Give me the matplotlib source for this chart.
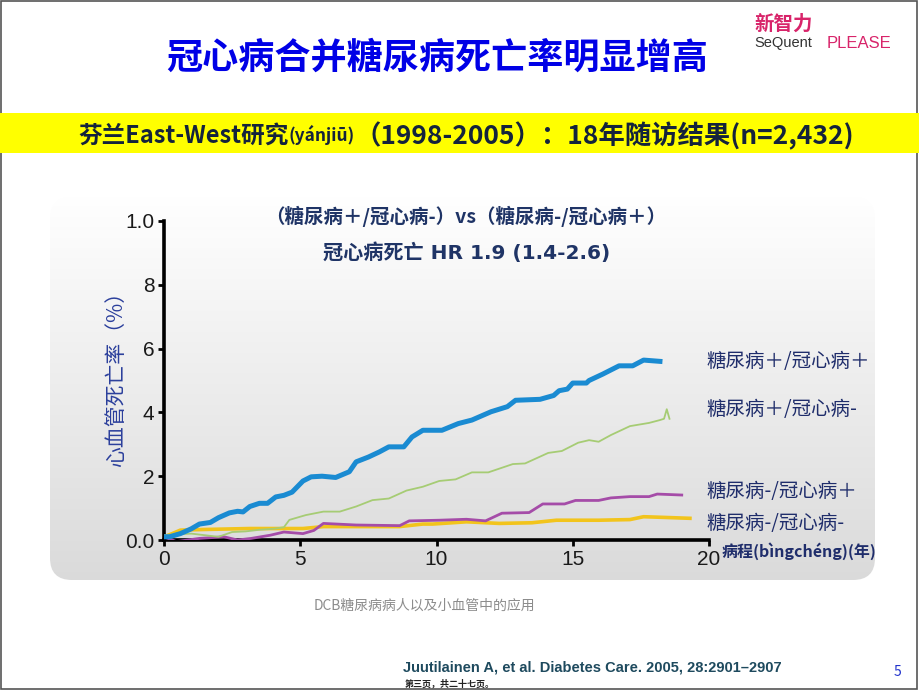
import matplotlib.pyplot as plt
import numpy as np
from matplotlib.patches import FancyBboxPatch, Rectangle

plt.rcParams['font.family'] = ['Noto Sans CJK SC', 'DejaVu Sans']

# 曲线数据 (年, %)
dm_chd_x = [0, 0.2, 0.6, 1.0, 1.3, 1.7, 2.0, 2.4, 2.7, 2.9, 3.15, 3.5, 3.8, 4.1, 4.4, 4.7, 5.1, 5.4, 5.8, 6.3,
            6.8, 7.05, 7.5, 7.9, 8.25, 8.8, 9.1, 9.5, 10.2, 10.8, 11.3, 12.0, 12.6, 12.9, 13.8, 14.3, 14.5,
            14.8, 15.0, 15.5, 15.6, 16.1, 16.7, 17.2, 17.6, 17.9, 18.2]
dm_chd_y = [0.1, 0.1, 0.2, 0.35, 0.5, 0.55, 0.7, 0.85, 0.9, 0.88, 1.05, 1.15, 1.15, 1.35, 1.4, 1.5, 1.85, 1.98,
            2.0, 1.96, 2.14, 2.45, 2.6, 2.76, 2.92, 2.92, 3.23, 3.44, 3.44, 3.65, 3.76, 4.02, 4.18, 4.38, 4.41,
            4.53, 4.68, 4.73, 4.92, 4.92, 5.0, 5.2, 5.46, 5.46, 5.64, 5.62, 5.6]

dm_nochd_x = [0, 0.5, 1.0, 1.5, 2.0, 2.5, 3.0, 3.5, 4.0, 4.4, 4.6, 5.2, 5.85, 6.45, 7.05, 7.65, 8.25, 8.9, 9.5,
              10.1, 10.7, 11.3, 11.9, 12.8, 13.25, 14.1, 14.6, 15.2, 15.6, 15.95, 16.4, 17.1, 17.8, 18.2,
              18.35, 18.45, 18.55]
dm_nochd_y = [0.15, 0.18, 0.2, 0.15, 0.1, 0.25, 0.27, 0.32, 0.35, 0.4, 0.63, 0.78, 0.89, 0.89, 1.05, 1.25, 1.3,
              1.55, 1.67, 1.85, 1.9, 2.12, 2.12, 2.38, 2.4, 2.73, 2.79, 3.05, 3.13, 3.08, 3.29, 3.57, 3.67, 3.76,
              3.8, 4.1, 3.8]

nodm_chd_x = [0, 0.45, 1.3, 2.2, 2.7, 3.2, 3.9, 4.4, 5.1, 5.5, 5.85, 7.05, 8.65, 9.0, 10.1, 11.1, 11.8, 12.4,
              13.4, 13.9, 14.7, 15.1, 15.95, 16.4, 17.1, 17.8, 18.1, 19.0]
nodm_chd_y = [0.1, -0.05, 0.05, 0.1, 0.0, 0.05, 0.15, 0.25, 0.2, 0.3, 0.52, 0.47, 0.45, 0.6, 0.62, 0.65, 0.6, 0.84,
              0.86, 1.13, 1.13, 1.24, 1.24, 1.32, 1.36, 1.36, 1.44, 1.41]

nodm_nochd_x = [0, 0.3, 0.6, 1.5, 3.15, 5.1, 5.85, 8.25, 8.64, 9.5, 9.86, 11.1, 12.3, 13.5, 14.4, 15.95, 17.1,
                17.6, 18.3, 19.3]
nodm_nochd_y = [0.1, 0.2, 0.31, 0.33, 0.36, 0.36, 0.42, 0.42, 0.42, 0.5, 0.5, 0.57, 0.52, 0.54, 0.62, 0.62, 0.64,
                0.73, 0.71, 0.68]

y_ticks = [0, 2, 4, 6, 8, 10]
y_tick_labels = ['0.0', '2', '4', '6', '8', '1.0']
x_ticks = [0, 5, 10, 15, 20]

series_labels = ['糖尿病＋/冠心病＋', '糖尿病＋/冠心病-', '糖尿病-/冠心病＋', '糖尿病-/冠心病-']

W, H = 920, 691
fig = plt.figure(figsize=(W / 100, H / 100), dpi=100)
fig.patch.set_facecolor('white')


def fx(px):
    return px / W


def fy(py):
    return 1 - py / H


# 幻灯片边框
fig.patches.append(Rectangle((fx(1), fy(689)), fx(916), 688 / H, transform=fig.transFigure,
                             fill=False, edgecolor='#555555', linewidth=1.2))

# 标题
fig.text(fx(437), fy(58), '冠心病合并糖尿病死亡率明显增高', ha='center', va='center',
         fontsize=26, fontweight='bold', color='#0000e6')

# logo (简化)
fig.text(fx(754), fy(24), '新智力', ha='left', va='center', fontsize=14, fontweight='bold', color='#d8246a')
fig.text(fx(754), fy(43), 'SeQuent', ha='left', va='center', fontsize=10.5, color='#333333',
         family=['Liberation Sans'])
fig.text(fx(827), fy(43), 'PLEASE', ha='left', va='center', fontsize=12, color='#d8246a',
         family=['Liberation Sans'])

# 黄色条
fig.patches.append(Rectangle((0, fy(153)), 1, 40 / H, transform=fig.transFigure,
                             facecolor='#ffff00', edgecolor='none'))
band_color = '#14233c'
pieces = [('芬兰East-West研究', 17), ('(yánjiū)', 12.5), ('（1998-2005）：18年随访结果(n=2,432)', 19)]
fig.canvas.draw()
renderer = fig.canvas.get_renderer()
x0 = 78
for s, size in pieces:
    t = fig.text(fx(x0), fy(133), s, ha='left', va='center_baseline', fontsize=size,
                 fontweight='bold', color=band_color, family=['Noto Sans CJK SC', 'DejaVu Sans'])
    bb = t.get_window_extent(renderer=renderer)
    x0 += bb.width

# 渐变背景面板
bg = fig.add_axes([0, 0, 1, 1], zorder=-1)
bg.set_xlim(0, W)
bg.set_ylim(H, 0)
bg.axis('off')
panel = FancyBboxPatch((50, 197), 825, 383, boxstyle='round,pad=0,rounding_size=22',
                       facecolor='none', edgecolor='none')
bg.add_patch(panel)
grad = np.linspace(1.0, 0.855, 256).reshape(-1, 1)
img = bg.imshow(np.dstack([grad, grad, grad]), extent=[47, 878, 583, 195], aspect='auto',
                interpolation='bicubic')
img.set_clip_path(panel)

# 主图
ax = fig.add_axes([fx(164), fy(540), fx(709) - fx(164), (540 - 221) / H])
ax.set_facecolor('none')
ax.plot(nodm_nochd_x, nodm_nochd_y, color='#f2c41c', linewidth=2.6, zorder=2)
ax.plot(nodm_chd_x, nodm_chd_y, color='#a54ca8', linewidth=2.0, zorder=3)
ax.plot(dm_nochd_x, dm_nochd_y, color='#a6cc74', linewidth=1.3, zorder=3)
ax.plot(dm_chd_x, dm_chd_y, color='#1a8bd2', linewidth=3.6, zorder=4)

ax.set_xlim(0, 20)
ax.set_ylim(0, 10)
ax.set_xticks(x_ticks)
ax.set_yticks(y_ticks)
ax.set_yticklabels(y_tick_labels)
for lab in ax.get_xticklabels() + ax.get_yticklabels():
    lab.set_family(['Liberation Sans'])
    lab.set_fontsize(15)
    lab.set_color('#1a1a1a')
ax.tick_params(direction='out', length=4, width=2, pad=3)
ax.spines['top'].set_visible(False)
ax.spines['right'].set_visible(False)
ax.spines['left'].set_linewidth(2.6)
ax.spines['bottom'].set_linewidth(2.6)

ax.set_ylabel('心血管死亡率（%）', fontsize=15, color='#2b3f9c')
ax.yaxis.set_label_coords(-0.068, 0.52)

# 注释
ann_color = '#1f3466'
fig.text(fx(466), fy(216), '（糖尿病＋/冠心病-）vs（糖尿病-/冠心病＋）', ha='center', va='center',
         fontsize=14, fontweight='bold', color=ann_color)
fig.text(fx(467), fy(253), '冠心病死亡 HR 1.9 (1.4-2.6)', ha='center', va='center',
         fontsize=14.5, fontweight='bold', color=ann_color, family=['DejaVu Sans', 'Noto Sans CJK SC'])

label_y = [362, 410, 492, 523]
for s, py in zip(series_labels, label_y):
    fig.text(fx(706), fy(py), s, ha='left', va='center', fontsize=14, color='#1f2d6b')

fig.text(fx(722), fy(551), '病程(bìngchéng)(年)', ha='left', va='center', fontsize=11.5,
         fontweight='bold', color='#1f2d6b')

# 页脚
fig.text(fx(424), fy(606), 'DCB糖尿病病人以及小血管中的应用', ha='center', va='center',
         fontsize=10, color='#8c8c8c')
fig.text(fx(403), fy(667), 'Juutilainen A, et al. Diabetes Care. 2005, 28:2901–2907', ha='left',
         va='center', fontsize=10.5, fontweight='bold', color='#1e4a5e',
         family=['Liberation Sans', 'DejaVu Sans'])
fig.text(fx(405), fy(684), '第三页，共二十七页。', ha='left', va='center', fontsize=6.5,
         fontweight='bold', color='#222222')
fig.text(fx(897), fy(672), '5', ha='center', va='center', fontsize=10, color='#2233cc')

fig.savefig('out.png', dpi=100)
